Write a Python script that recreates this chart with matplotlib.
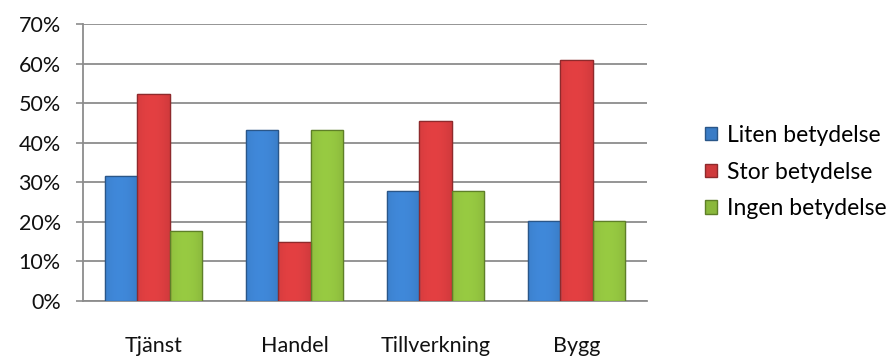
import matplotlib
matplotlib.use("Agg")
import matplotlib.pyplot as plt
import numpy as np
from matplotlib.patches import Patch
from matplotlib.colors import to_rgb

categories = ["Tjänst", "Handel", "Tillverkning", "Bygg"]
series_names = ["Liten betydelse", "Stor betydelse", "Ingen betydelse"]
liten = [31.5, 43.3, 27.9, 20.3]
stor = [52.4, 14.9, 45.6, 60.8]
ingen = [17.8, 43.3, 27.9, 20.3]
yticks = [0, 10, 20, 30, 40, 50, 60, 70]
ytick_labels = ["0%", "10%", "20%", "30%", "40%", "50%", "60%", "70%"]

colors = ["#3a7cc6", "#cf3a3c", "#8ab83c"]
edges = ["#2a5688", "#8e2a2c", "#5e7f28"]

plt.rcParams['font.family'] = ['Lato', 'DejaVu Sans']
FS = 15.5

fig = plt.figure(figsize=(8.96, 3.56), dpi=100)
ax = fig.add_axes([83/896, 1-301/356, (647-83)/896, (301-24)/356])

x = np.arange(len(categories))
w = 0.227
# horizontal shading profile across a bar (lighter centre-left, darker edges)
t = np.linspace(0, 1, 64)
profile = 1.0 - 0.35 * ((t - 0.45) / 0.55) ** 2
for i, vals in enumerate([liten, stor, ingen]):
    bars = ax.bar(x + (i-1)*w, vals, width=w, color=colors[i], edgecolor=edges[i],
                  linewidth=0.9, zorder=3, label=series_names[i])
    base = np.array(to_rgb(colors[i]))
    img = np.clip(base[None, None, :] * (0.82 + 0.28 * profile)[None, :, None], 0, 1)
    for b in bars:
        im = ax.imshow(img, extent=[b.get_x(), b.get_x() + b.get_width(), 0, b.get_height()],
                       aspect='auto', zorder=3.5, interpolation='bilinear')
        im.set_clip_path(b)
        ax.bar(b.get_x() + b.get_width()/2, b.get_height(), width=b.get_width(),
               fill=False, edgecolor=edges[i], linewidth=0.9, zorder=4)

ax.set_xlim(-0.5, len(categories)-0.5)
ax.set_ylim(0, 70)
ax.set_yticks(yticks)
ax.set_yticklabels(ytick_labels, fontsize=FS, color="#111111")
ax.set_xticks(x)
ax.set_xticklabels(categories, fontsize=FS, color="#111111")
ax.tick_params(axis='x', length=0, pad=25)
ax.tick_params(axis='y', length=5, width=1.2, color="#8c8c8c", pad=11)
ax.yaxis.grid(True, color="#8c8c8c", linewidth=1.3, zorder=0)
ax.set_axisbelow(True)
for s in ["top", "right"]:
    ax.spines[s].set_visible(False)
for s in ["left", "bottom"]:
    ax.spines[s].set_color("#8c8c8c")
    ax.spines[s].set_linewidth(1.3)

handles = [Patch(facecolor=colors[i], edgecolor=edges[i], label=series_names[i]) for i in range(3)]
fig.legend(handles=handles, loc="center left", bbox_to_anchor=(705/896, 1-172/356),
           frameon=False, fontsize=16.5, handlelength=0.52, handleheight=0.52,
           handletextpad=0.44, labelspacing=0.68, borderpad=0, borderaxespad=0)

fig.savefig("out.png", dpi=100)
